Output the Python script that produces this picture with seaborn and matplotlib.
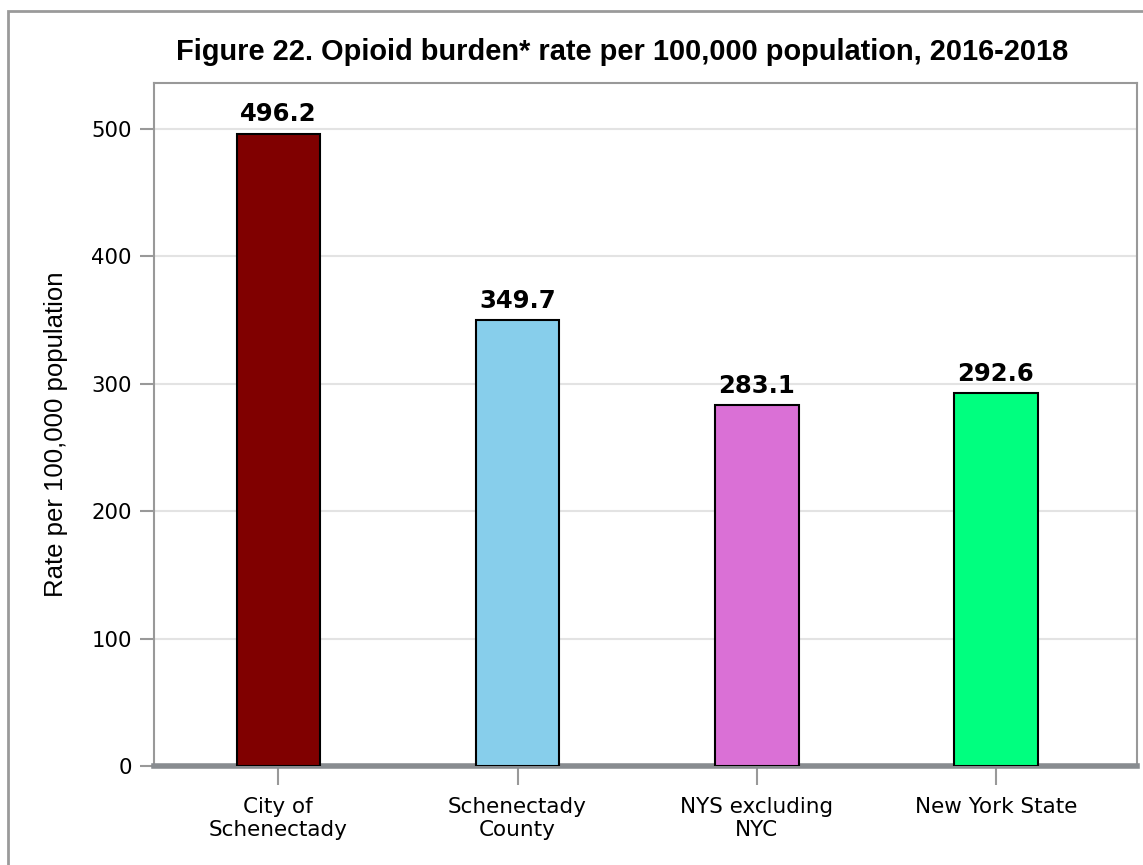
import matplotlib
matplotlib.use('Agg')
import matplotlib.pyplot as plt
import seaborn as sns
from matplotlib import font_manager
from matplotlib.patches import Rectangle

# Chart data
categories = ['City of\nSchenectady', 'Schenectady\nCounty', 'NYS excluding\nNYC', 'New York State']
rates = [496.2, 349.7, 283.1, 292.6]
bar_colors = ['#800000', '#87CEEB', '#DA70D6', '#00FF7F']
y_ticks = [0, 100, 200, 300, 400, 500]

sns.set_style('white')
plt.rcParams['font.family'] = ['DejaVu Sans']
plt.rcParams['text.color'] = 'black'
plt.rcParams['xtick.labelcolor'] = 'black'
plt.rcParams['ytick.labelcolor'] = 'black'
plt.rcParams['axes.labelcolor'] = 'black'


# Pick the normal-width Liberation Sans files (not the Narrow ones)
def arial_like(bold):
    target = 'liberationsans-bold.ttf' if bold else 'liberationsans-regular.ttf'
    for f in font_manager.findSystemFonts():
        if f.lower().endswith(target):
            return font_manager.FontProperties(fname=f)
    return font_manager.FontProperties(family='Liberation Sans', weight='bold' if bold else 'normal')


title_font = arial_like(True)
title_font.set_size(20.9)
label_font = arial_like(False)
label_font.set_size(18.5)

fig = plt.figure(figsize=(11.43, 8.65), dpi=100)
ax = fig.add_axes([154 / 1143, 1 - 766 / 865, (1137 - 154) / 1143, (766 - 83) / 865])

# Outer frame around the whole chart
fig.patches.append(Rectangle((8 / 1143, -0.05), 1.2, 1 - 11 / 865 + 0.05, transform=fig.transFigure,
                             fill=False, edgecolor='#9a9a9a', linewidth=2, zorder=0))

sns.barplot(x=categories, y=rates, hue=categories, palette=bar_colors, legend=False,
            width=0.35, edgecolor='black', linewidth=1.5, saturation=1, ax=ax, zorder=3)

# Value labels above bars
for i, v in enumerate(rates):
    ax.text(i, v + 6, f'{v:.1f}', ha='center', va='bottom', fontsize=17.5, fontweight='bold',
            color='black', zorder=4)

ax.set_xlim(-0.52, 3.59)
ax.set_ylim(0, 536)
ax.set_yticks(y_ticks)
ax.yaxis.grid(True, color='#e3e3e3', linewidth=1.5, zorder=0)
ax.set_axisbelow(True)

for side in ['left', 'top', 'right']:
    ax.spines[side].set_color('#999999')
    ax.spines[side].set_linewidth(1.5)
ax.spines['bottom'].set_color('#888c90')
ax.spines['bottom'].set_linewidth(4)

ax.tick_params(axis='y', length=10, width=1.5, color='#999999', labelsize=15.3, pad=6, left=True)
ax.tick_params(axis='x', length=14, width=1.5, color='#999999', labelsize=15.5, pad=8, bottom=True)

ax.set_xlabel('')
ax.set_ylabel('')
fig.text(56 / 1143, 1 - 434 / 865, 'Rate per 100,000 population', rotation=90,
         ha='center', va='center', fontproperties=label_font)

fig.text(622 / 1143, 1 - 52 / 865, 'Figure 22. Opioid burden* rate per 100,000 population, 2016-2018',
         ha='center', va='center', fontproperties=title_font)

fig.savefig('out.png', dpi=100)
